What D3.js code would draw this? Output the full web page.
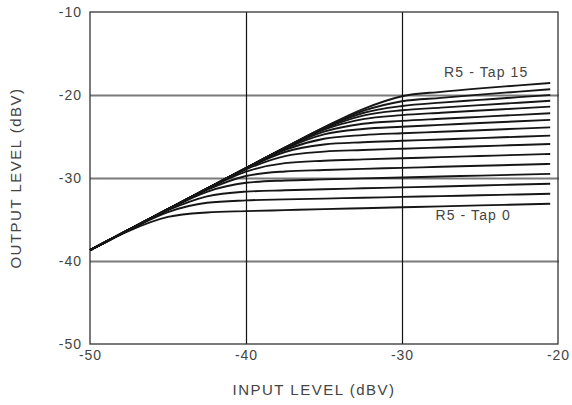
<!DOCTYPE html>
<html>
<head>
<meta charset="utf-8">
<script src="https://cdn.jsdelivr.net/npm/d3@7"></script>
<style>
  body { margin: 0; background: #fff; }
  svg text { font-family: "Liberation Sans", Arial, sans-serif; fill: #444; }
</style>
</head>
<body>
<script>
var width = 572, height = 405;
var margin = {top: 12, right: 14, bottom: 61, left: 90};
var w = width - margin.left - margin.right, h = height - margin.top - margin.bottom;

// input level samples (dBV)
var inputLevels = [-50, -47.5, -45, -42.5, -40, -37.5, -35, -32.5, -30, -27.5, -25, -22.5, -20.5];

// output level for each tap (dBV)
var tap0  = [-38.71, -36.36, -34.69, -34.15, -33.99, -33.87, -33.75, -33.64, -33.53, -33.42, -33.30, -33.19, -33.10];
var tap1  = [-38.70, -36.26, -34.10, -32.98, -32.70, -32.58, -32.48, -32.38, -32.28, -32.18, -32.08, -31.98, -31.90];
var tap2  = [-38.70, -36.24, -33.88, -32.21, -31.64, -31.48, -31.35, -31.24, -31.13, -31.02, -30.90, -30.79, -30.70];
var tap3  = [-38.70, -36.23, -33.79, -31.66, -30.58, -30.30, -30.17, -30.05, -29.94, -29.82, -29.71, -29.59, -29.50];
var tap4  = [-38.70, -36.23, -33.77, -31.42, -29.76, -29.21, -29.04, -28.90, -28.78, -28.65, -28.53, -28.40, -28.30];
var tap5  = [-38.70, -36.23, -33.76, -31.33, -29.23, -28.21, -27.92, -27.76, -27.62, -27.49, -27.35, -27.21, -27.10];
var tap6  = [-38.70, -36.23, -33.75, -31.29, -28.96, -27.36, -26.82, -26.63, -26.47, -26.32, -26.17, -26.02, -25.90];
var tap7  = [-38.70, -36.23, -33.75, -31.28, -28.87, -26.87, -25.97, -25.69, -25.52, -25.36, -25.19, -25.03, -24.90];
var tap8  = [-38.70, -36.23, -33.75, -31.28, -28.83, -26.60, -25.27, -24.83, -24.61, -24.43, -24.24, -24.05, -23.90];
var tap9  = [-38.70, -36.23, -33.75, -31.28, -28.82, -26.47, -24.75, -24.09, -23.82, -23.60, -23.38, -23.17, -23.00];
var tap10 = [-38.70, -36.23, -33.75, -31.28, -28.81, -26.41, -24.42, -23.47, -23.12, -22.87, -22.63, -22.39, -22.20];
var tap11 = [-38.70, -36.23, -33.75, -31.28, -28.80, -26.37, -24.18, -22.91, -22.43, -22.14, -21.87, -21.61, -21.40];
var tap12 = [-38.70, -36.23, -33.75, -31.28, -28.80, -26.35, -24.06, -22.48, -21.84, -21.52, -21.22, -20.93, -20.70];
var tap13 = [-38.70, -36.23, -33.75, -31.28, -28.80, -26.35, -23.98, -22.17, -21.33, -20.92, -20.59, -20.26, -20.00];
var tap14 = [-38.70, -36.23, -33.75, -31.28, -28.80, -26.34, -23.93, -21.92, -20.75, -20.34, -19.95, -19.59, -19.30];
var tap15 = [-38.70, -36.23, -33.75, -31.28, -28.80, -26.33, -23.90, -21.70, -20.15, -19.62, -19.20, -18.84, -18.55];
var taps = [tap0, tap1, tap2, tap3, tap4, tap5, tap6, tap7, tap8, tap9, tap10, tap11, tap12, tap13, tap14, tap15];

// ticks
var xTicks = [-50, -40, -30, -20];
var yTicks = [-50, -40, -30, -20, -10];
var xGrid = [-40, -30];
var yGrid = [-40, -30, -20];

var svg = d3.select('body').append('svg').attr('width', width).attr('height', height);
var g = svg.append('g').attr('transform', 'translate(' + margin.left + ',' + margin.top + ')');

var x = d3.scaleLinear().domain([-50, -20]).range([0, w]);
var y = d3.scaleLinear().domain([-50, -10]).range([h, 0]);

// plain hyphen, like the original
var fmt = function(d) { return String(d); };

// horizontal grid (grey, heavier)
g.append('g')
  .call(d3.axisLeft(y).tickValues(yGrid).tickSize(-w - 1).tickFormat(''))
  .call(function(a) { a.select('.domain').remove(); })
  .selectAll('line').attr('stroke', '#7a7a7a').attr('stroke-width', 2);

// vertical grid (black, thin)
g.append('g')
  .attr('transform', 'translate(0,' + h + ')')
  .call(d3.axisBottom(x).tickValues(xGrid).tickSize(-h).tickFormat(''))
  .call(function(a) { a.select('.domain').remove(); })
  .selectAll('line').attr('stroke', '#111').attr('stroke-width', 1.2);

// frame
g.append('rect').attr('width', w).attr('height', h)
  .attr('fill', 'none').attr('stroke', '#333').attr('stroke-width', 1.3);

// tick labels
var yAxis = g.append('g')
  .call(d3.axisLeft(y).tickValues(yTicks).tickSize(0).tickPadding(8).tickFormat(fmt));
yAxis.select('.domain').remove();
yAxis.selectAll('text').attr('font-size', 14).style('letter-spacing', '1px')
  .style('font-family', '"Liberation Sans", Arial, sans-serif').attr('fill', '#444');

var xAxis = g.append('g')
  .attr('transform', 'translate(0,' + h + ')')
  .call(d3.axisBottom(x).tickValues(xTicks).tickSize(0).tickPadding(6).tickFormat(fmt));
xAxis.select('.domain').remove();
xAxis.selectAll('text').attr('font-size', 14).style('letter-spacing', '1px')
  .style('font-family', '"Liberation Sans", Arial, sans-serif').attr('fill', '#444');

// curves
var line = d3.line()
  .x(function(d, i) { return x(inputLevels[i]); })
  .y(function(d) { return y(d); })
  .curve(d3.curveMonotoneX);

g.selectAll('path.tap')
  .data(taps)
  .join('path')
  .attr('class', 'tap')
  .attr('d', line)
  .attr('fill', 'none')
  .attr('stroke', '#161616')
  .attr('stroke-width', 1.9);

// curve labels
g.append('text').attr('x', x(-27.3)).attr('y', y(-17.85))
  .attr('font-size', 14).style('letter-spacing', '1.1px').text('R5 - Tap 15');
g.append('text').attr('x', x(-27.85)).attr('y', y(-35.05))
  .attr('font-size', 14).style('letter-spacing', '1.1px').text('R5 - Tap 0');

// axis titles
svg.append('text')
  .attr('x', 314).attr('y', 395)
  .attr('text-anchor', 'middle')
  .attr('font-size', 15).style('letter-spacing', '1.5px')
  .text('INPUT LEVEL (dBV)');

svg.append('text')
  .attr('transform', 'translate(21,178) rotate(-90)')
  .attr('text-anchor', 'middle')
  .attr('font-size', 15).style('letter-spacing', '1.5px')
  .text('OUTPUT LEVEL (dBV)');
</script>
</body>
</html>
